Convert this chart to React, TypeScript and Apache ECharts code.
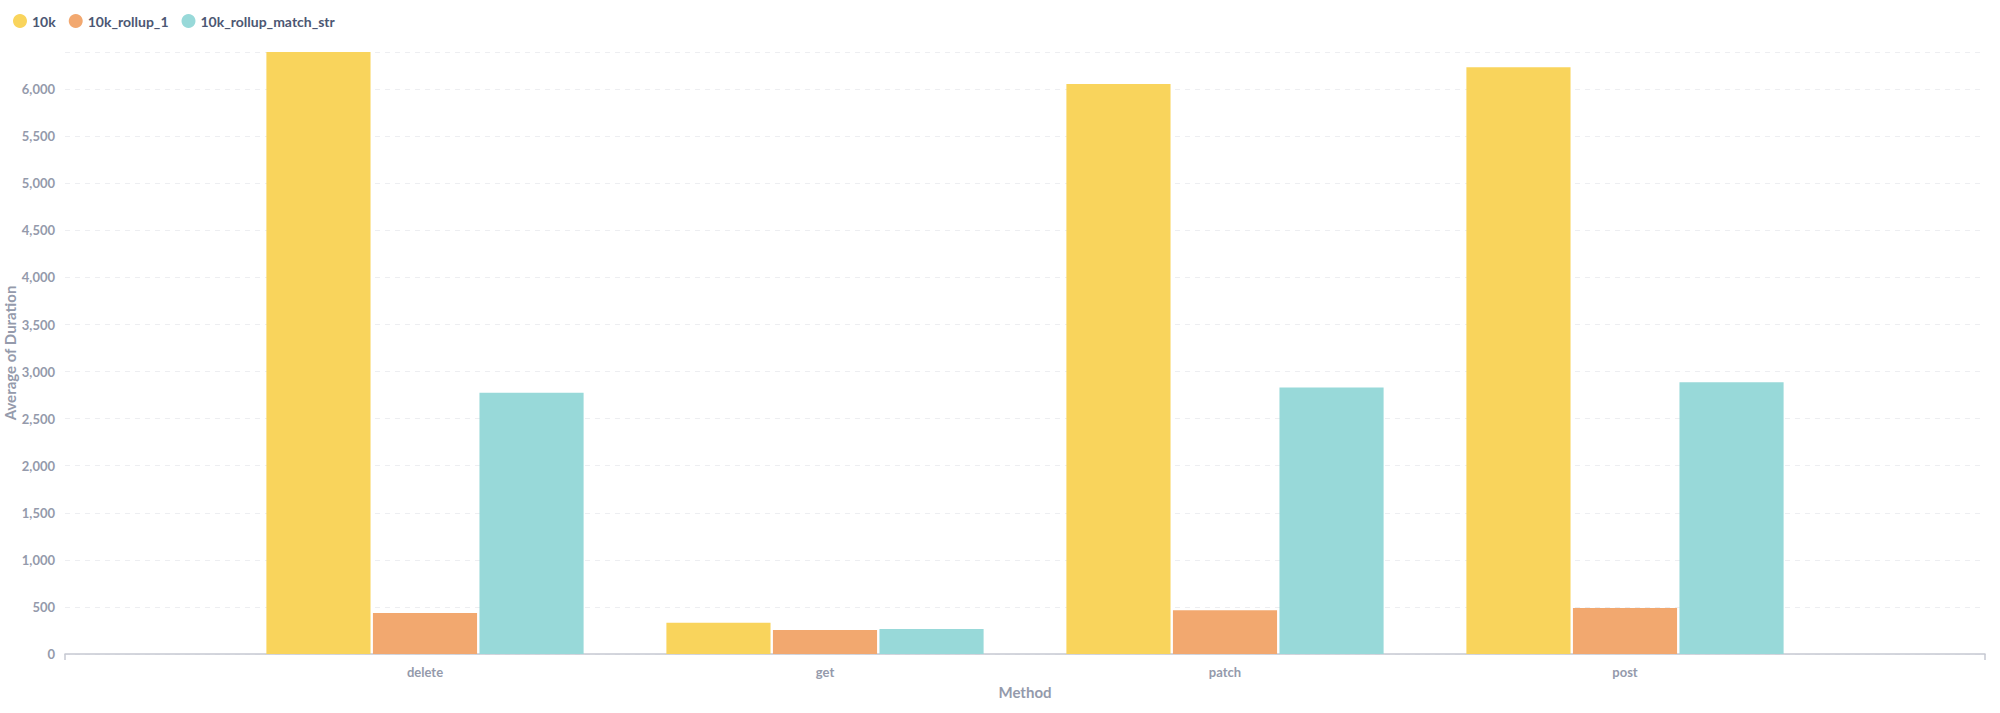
import { useEffect, useRef } from 'react'
import * as echarts from 'echarts'

const methods = ['delete', 'get', 'patch', 'post']
const seriesNames = ['10k', '10k_rollup_1', '10k_rollup_match_str']
const values10k = [6395, 332, 6056, 6234]
const valuesRollup1 = [435, 255, 465, 488]
const valuesMatchStr = [2775, 265, 2831, 2888]
const colors = ['#F9D45C', '#F2A86F', '#98D9D9']

const labelColor = '#949AAB'
const font = 'Lato, "Open Sans", sans-serif'

export default function App() {
  const ref = useRef<HTMLDivElement | null>(null)

  useEffect(() => {
    if (!ref.current) return
    const chart = echarts.init(ref.current, null, { renderer: 'svg' })

    const allSeries = [values10k, valuesRollup1, valuesMatchStr]

    chart.setOption({
      animation: false,
      backgroundColor: '#ffffff',
      textStyle: { fontFamily: font },
      legend: {
        left: 8,
        top: 9,
        icon: 'circle',
        itemWidth: 14,
        itemHeight: 14,
        itemGap: 13,
        textStyle: { color: '#4C5773', fontSize: 14, fontWeight: 700, fontFamily: font },
        data: seriesNames
      },
      grid: { left: 65, right: 15, top: 52, bottom: 59, containLabel: false, outerBoundsMode: 'none' },
      xAxis: {
        type: 'value',
        min: -0.9,
        max: 3.9,
        name: 'Method',
        nameLocation: 'middle',
        nameGap: 30,
        nameMoveOverlap: false,
        nameTextStyle: { color: labelColor, fontSize: 15, fontWeight: 700, fontFamily: font },
        axisLine: { show: true, lineStyle: { color: '#C6C9D2', width: 1.5 } },
        axisTick: { show: true, customValues: [-0.9, 3.9], length: 6, lineStyle: { color: '#C6C9D2', width: 1.5 } },
        splitLine: { show: false },
        axisLabel: {
          customValues: [0, 1, 2, 3],
          color: labelColor,
          fontSize: 13,
          fontWeight: 700,
          fontFamily: font,
          margin: 11,
          formatter: (v: number) => methods[Math.round(v)] ?? ''
        }
      },
      yAxis: {
        type: 'value',
        min: 0,
        max: 'dataMax',
        interval: 500,
        name: 'Average of Duration',
        nameLocation: 'middle',
        nameGap: 48,
        nameMoveOverlap: false,
        nameTextStyle: { color: labelColor, fontSize: 15, fontWeight: 700, fontFamily: font },
        axisLine: { show: false },
        axisTick: { show: false },
        splitLine: { show: true, lineStyle: { color: '#EDEEF1', type: [5, 5], width: 1 } },
        axisLabel: {
          color: labelColor,
          fontSize: 13,
          fontWeight: 700,
          fontFamily: font,
          margin: 10,
          showMaxLabel: false,
          formatter: (v: number) => (v % 500 === 0 ? v.toLocaleString('en-US') : '')
        }
      },
      series: seriesNames.map((name, i) => ({
        name,
        type: 'bar',
        barCategoryGap: '20.7%',
        barGap: '2.3%',
        itemStyle: { color: colors[i] },
        data: allSeries[i].map((v, j) => [j, v])
      }))
    })

    const onResize = () => chart.resize()
    window.addEventListener('resize', onResize)
    return () => {
      window.removeEventListener('resize', onResize)
      chart.dispose()
    }
  }, [])

  return <div ref={ref} style={{ position: 'absolute', left: 0, top: 0, width: 2000, height: 713 }} />
}
